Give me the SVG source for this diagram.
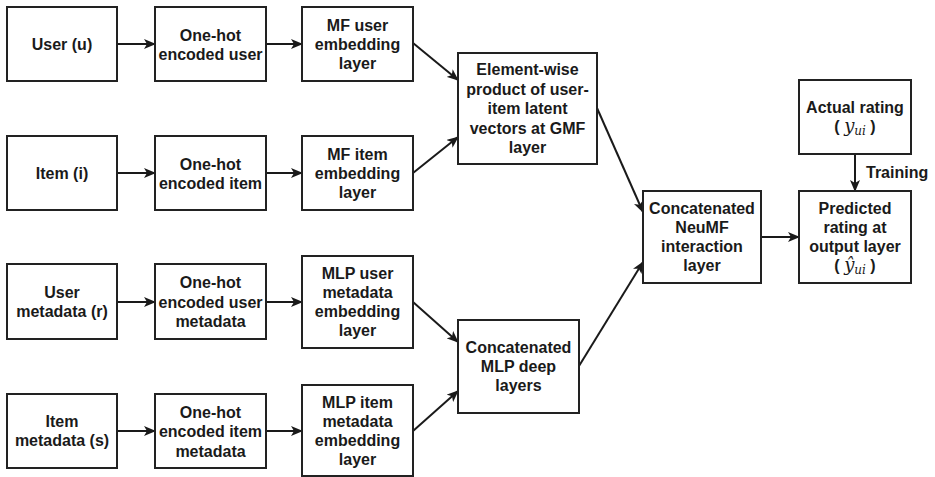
<svg xmlns="http://www.w3.org/2000/svg" width="935" height="477" viewBox="0 0 935 477">
<defs>
<style>
.box{fill:#fff;stroke:#222;stroke-width:2}
.t{font-family:"Liberation Sans",Arial,sans-serif;font-weight:bold;font-size:16px;fill:#1a1a1a;text-anchor:middle}
.m{font-family:"DejaVu Serif","Liberation Serif",serif;font-style:italic;font-weight:normal}
.c{stroke:#1a1a1a;stroke-width:2;fill:none;marker-end:url(#ah)}
</style>
<marker id="ah" viewBox="0 0 12 10" refX="11" refY="5" markerWidth="12" markerHeight="10" markerUnits="userSpaceOnUse" orient="auto">
<path d="M0,0 L12,5 L0,10 L3,5 z" fill="#1a1a1a"/>
</marker>
</defs>
<rect width="935" height="477" fill="#fff"/>
<g id="connectors">
<line class="c" x1="117" y1="44" x2="155" y2="44"/>
<line class="c" x1="266" y1="44" x2="302" y2="44"/>
<line class="c" x1="413" y1="43" x2="458" y2="80"/>
<line class="c" x1="413" y1="173" x2="458" y2="137"/>
<line class="c" x1="117" y1="173" x2="155" y2="173"/>
<line class="c" x1="266" y1="173" x2="302" y2="173"/>
<line class="c" x1="597" y1="108" x2="643" y2="212"/>
<line class="c" x1="579" y1="366" x2="643" y2="262"/>
<line class="c" x1="761" y1="237" x2="799" y2="237"/>
<line class="c" x1="855" y1="154" x2="855" y2="191"/>
<line class="c" x1="117" y1="302" x2="155" y2="302"/>
<line class="c" x1="266" y1="302" x2="302" y2="302"/>
<line class="c" x1="413" y1="302" x2="458" y2="342"/>
<line class="c" x1="117" y1="431" x2="155" y2="431"/>
<line class="c" x1="266" y1="431" x2="302" y2="431"/>
<line class="c" x1="413" y1="431" x2="458" y2="391"/>
<text class="t" x="866" y="178" style="text-anchor:start">Training</text>
</g>
<g id="user">
<rect class="box" x="7" y="7" width="110" height="74"/>
<text class="t" x="62" y="50">User (u)</text>
</g>
<g id="onehot-user">
<rect class="box" x="155" y="7" width="111" height="74"/>
<text class="t" x="210.5" y="40.5">One-hot</text>
<text class="t" x="210.5" y="59.5">encoded user</text>
</g>
<g id="mf-user">
<rect class="box" x="302" y="7" width="111" height="74"/>
<text class="t" x="357.5" y="31">MF user</text>
<text class="t" x="357.5" y="50">embedding</text>
<text class="t" x="357.5" y="69">layer</text>
</g>
<g id="item">
<rect class="box" x="7" y="136" width="110" height="74"/>
<text class="t" x="62" y="178.5">Item (i)</text>
</g>
<g id="onehot-item">
<rect class="box" x="155" y="136" width="111" height="74"/>
<text class="t" x="210.5" y="169.5">One-hot</text>
<text class="t" x="210.5" y="188.5">encoded item</text>
</g>
<g id="mf-item">
<rect class="box" x="302" y="136" width="111" height="74"/>
<text class="t" x="357.5" y="160">MF item</text>
<text class="t" x="357.5" y="179">embedding</text>
<text class="t" x="357.5" y="198">layer</text>
</g>
<g id="gmf">
<rect class="box" x="458" y="53" width="139" height="111"/>
<text class="t" x="527.5" y="75">Element-wise</text>
<text class="t" x="527.5" y="94.5">product of user-</text>
<text class="t" x="527.5" y="114">item latent</text>
<text class="t" x="527.5" y="133.5">vectors at GMF</text>
<text class="t" x="527.5" y="153">layer</text>
</g>
<g id="user-meta">
<rect class="box" x="7" y="264" width="110" height="75"/>
<text class="t" x="62" y="298">User</text>
<text class="t" x="62" y="317">metadata (r)</text>
</g>
<g id="onehot-user-meta">
<rect class="box" x="155" y="264" width="111" height="75"/>
<text class="t" x="210.5" y="288">One-hot</text>
<text class="t" x="210.5" y="307.5">encoded user</text>
<text class="t" x="210.5" y="327">metadata</text>
</g>
<g id="mlp-user">
<rect class="box" x="302" y="256" width="111" height="92"/>
<text class="t" x="357.5" y="279">MLP user</text>
<text class="t" x="357.5" y="298">metadata</text>
<text class="t" x="357.5" y="317">embedding</text>
<text class="t" x="357.5" y="336">layer</text>
</g>
<g id="item-meta">
<rect class="box" x="7" y="394" width="110" height="74"/>
<text class="t" x="62" y="427">Item</text>
<text class="t" x="62" y="446">metadata (s)</text>
</g>
<g id="onehot-item-meta">
<rect class="box" x="155" y="394" width="111" height="74"/>
<text class="t" x="210.5" y="417.5">One-hot</text>
<text class="t" x="210.5" y="437">encoded item</text>
<text class="t" x="210.5" y="456.5">metadata</text>
</g>
<g id="mlp-item">
<rect class="box" x="302" y="385" width="111" height="91"/>
<text class="t" x="357.5" y="407.5">MLP item</text>
<text class="t" x="357.5" y="426.5">metadata</text>
<text class="t" x="357.5" y="445.5">embedding</text>
<text class="t" x="357.5" y="464.5">layer</text>
</g>
<g id="mlp-concat">
<rect class="box" x="458" y="320" width="121" height="93"/>
<text class="t" x="518.5" y="353">Concatenated</text>
<text class="t" x="518.5" y="372">MLP deep</text>
<text class="t" x="518.5" y="391">layers</text>
</g>
<g id="neumf">
<rect class="box" x="643" y="191" width="118" height="92"/>
<text class="t" x="702" y="214">Concatenated</text>
<text class="t" x="702" y="233">NeuMF</text>
<text class="t" x="702" y="252">interaction</text>
<text class="t" x="702" y="271">layer</text>
</g>
<g id="actual">
<rect class="box" x="799" y="80" width="112" height="74"/>
<text class="t" x="855" y="113">Actual rating</text>
<text class="t" x="855" y="132">( <tspan class="m" font-size="18">y</tspan><tspan class="m" font-size="12" dy="3">ui</tspan><tspan dy="-3"> )</tspan></text>
</g>
<g id="predicted">
<rect class="box" x="799" y="191" width="112" height="92"/>
<text class="t" x="855" y="214">Predicted</text>
<text class="t" x="855" y="233">rating at</text>
<text class="t" x="855" y="252">output layer</text>
<text class="t" x="855" y="271">( <tspan class="m" font-size="18">ŷ</tspan><tspan class="m" font-size="12" dy="3">ui</tspan><tspan dy="-3"> )</tspan></text>
</g>
</svg>
